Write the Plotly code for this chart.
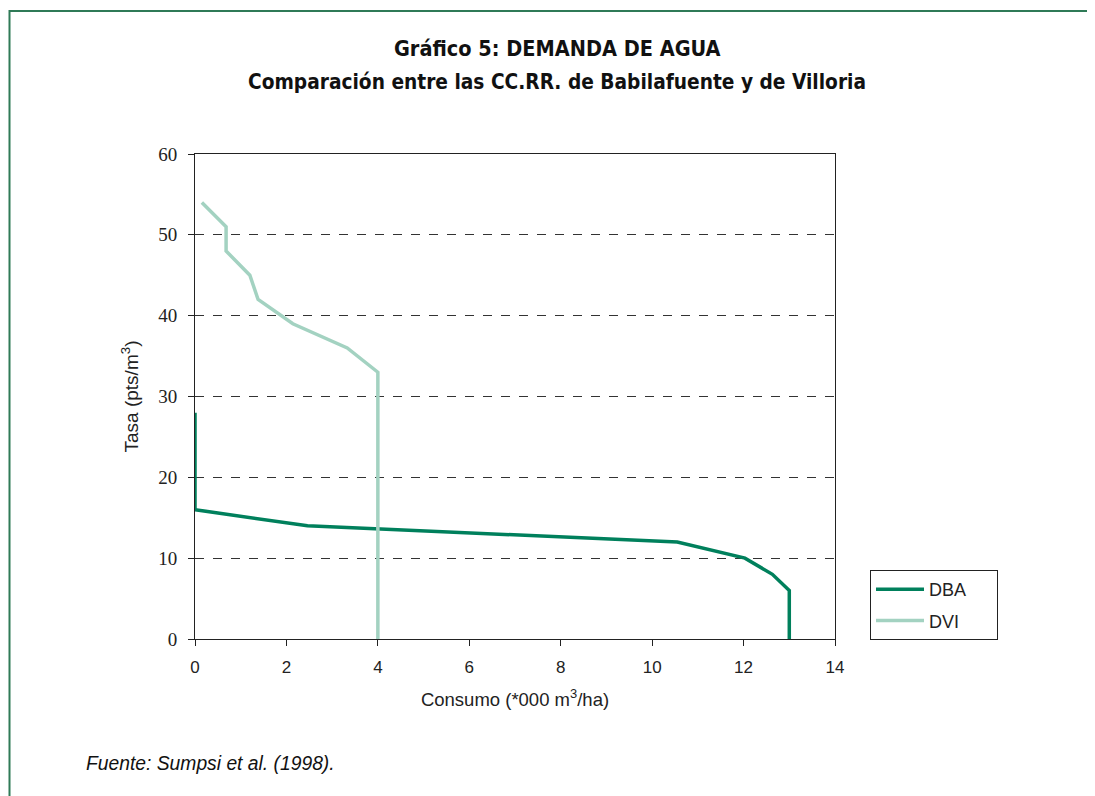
import plotly.graph_objects as go

# Data
dba_consumo = [0, 0, 2.46, 10.55, 12.03, 12.63, 13.0, 13.0]
dba_tasa = [28, 16, 14, 12, 10, 8, 6, 0]
dvi_consumo = [0.15, 0.68, 0.68, 1.2, 1.38, 2.14, 3.33, 4.0, 4.0]
dvi_tasa = [54, 51, 48, 45, 42, 39, 36, 33, 0]

x_ticks = [0, 2, 4, 6, 8, 10, 12, 14]
y_ticks = [0, 10, 20, 30, 40, 50, 60]

W, H = 1095, 796
OFF = 8  # page body margin
# target screen positions of plot area
SL, SR, ST, SB = 195, 835, 154, 639
L, R, T, B = SL - OFF, SR - OFF, ST - OFF, SB - OFF

fig = go.Figure()
fig.add_trace(go.Scatter(x=dba_consumo, y=dba_tasa, mode="lines",
                         name="DBA&nbsp;&nbsp;&nbsp;&nbsp;&nbsp;",
                         legendgroup="a",
                         line=dict(color="#00805c", width=3.5)))
fig.add_trace(go.Scatter(x=dvi_consumo, y=dvi_tasa, mode="lines", name="DVI",
                         legendgroup="b",
                         line=dict(color="#a3d2c1", width=3.5)))

def px_x(p):  # screen px -> paper
    return (p - SL) / (SR - SL)

def px_y(p):
    return (SB - p) / (SB - ST)

SANS = "Liberation Sans, Arial"
TITLE_FONT = "DejaVu Sans Condensed, Liberation Sans Narrow, Arial Narrow, Liberation Sans"

fig.update_layout(
    width=W, height=H,
    margin=dict(l=L, r=W - R, t=T, b=H - B),
    paper_bgcolor="white", plot_bgcolor="white",
    xaxis=dict(
        range=[0, 14], tickvals=x_ticks, ticktext=[str(v) for v in x_ticks],
        showgrid=False, zeroline=False,
        showline=True, linecolor="#222", linewidth=1, mirror=True,
        ticks="outside", ticklen=6, tickcolor="#222", ticklabelstandoff=7,
        tickfont=dict(family=SANS, size=17, color="#222"),
        title=dict(text="Consumo (*000 m<sup>3</sup>/ha)", standoff=16,
                   font=dict(family=SANS, size=18.5, color="#222")),
    ),
    yaxis=dict(
        range=[0, 60], tickvals=y_ticks, ticktext=[str(v) for v in y_ticks],
        showgrid=True, gridcolor="#333", griddash="dash", gridwidth=1,
        zeroline=False,
        showline=True, linecolor="#222", linewidth=1, mirror=True,
        ticks="outside", ticklen=6, tickcolor="#222", ticklabelstandoff=7,
        tickfont=dict(family="Liberation Serif, DejaVu Serif, serif", size=19, color="#222"),
        title=dict(text="Tasa (pts/m<sup>3</sup>)", standoff=14,
                   font=dict(family=SANS, size=19, color="#222")),
    ),
    legend=dict(
        x=px_x(870), y=px_y(570), xanchor="left", yanchor="top",
        bordercolor="#222", borderwidth=1, bgcolor="white",
        font=dict(family=SANS, size=18, color="#222"),
        itemwidth=48, tracegroupgap=5,
    ),
    showlegend=True,
)

# title lines
fig.add_annotation(text="<b>Gráfico 5: DEMANDA DE AGUA</b>", xref="paper", yref="paper",
                   x=px_x(557), y=px_y(48), xanchor="center", yanchor="middle", showarrow=False,
                   font=dict(family=TITLE_FONT, size=21.5, color="#111"))
fig.add_annotation(text="<b>Comparación entre las CC.RR. de Babilafuente y de Villoria</b>",
                   xref="paper", yref="paper",
                   x=px_x(557), y=px_y(82), xanchor="center", yanchor="middle", showarrow=False,
                   font=dict(family=TITLE_FONT, size=20.7, color="#111"))

# outer green frame
fig.add_shape(type="rect", xref="paper", yref="paper",
              x0=px_x(9.5), x1=px_x(1120), y0=px_y(830), y1=px_y(11),
              line=dict(color="#2f7a57", width=2), fillcolor="rgba(0,0,0,0)", layer="below")

fig.add_annotation(text="<i>Fuente: Sumpsi et al. (1998).</i>", xref="paper", yref="paper",
                   x=px_x(84), y=px_y(763), xanchor="left", yanchor="middle", showarrow=False,
                   font=dict(family=SANS, size=19.3, color="#111"))

fig.write_html("out.html")
